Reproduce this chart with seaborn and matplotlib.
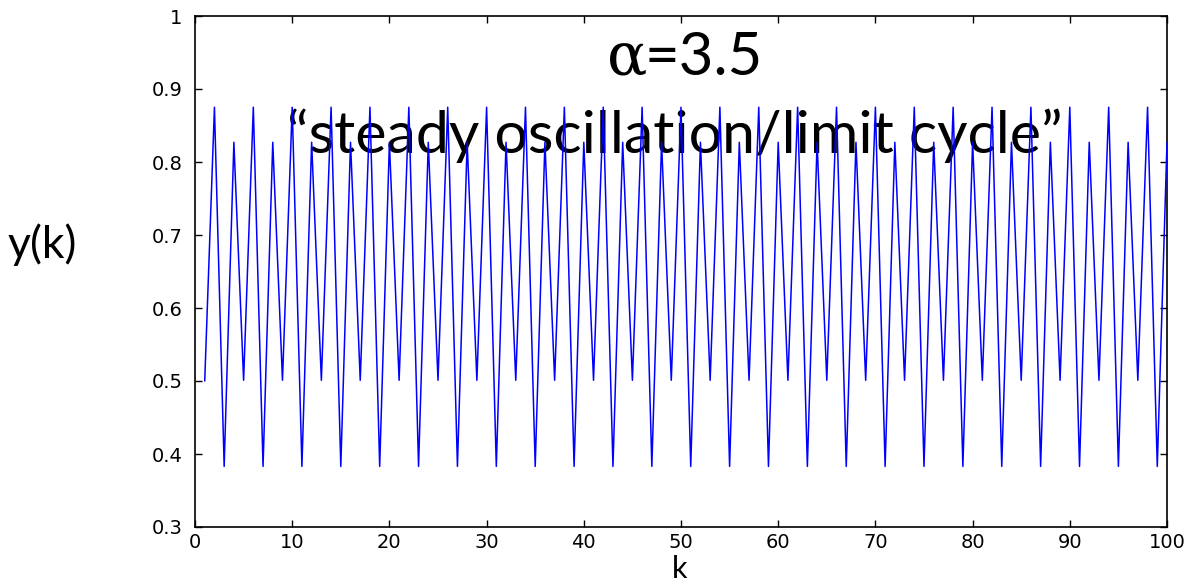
import matplotlib
matplotlib.use("Agg")
import matplotlib.pyplot as plt
import seaborn as sns
import pandas as pd

k_values = list(range(1, 101))
y_values = [
    0.500, 0.875, 0.383, 0.827, 0.501, 0.875, 0.383, 0.827, 0.501, 0.875,
    0.383, 0.827, 0.501, 0.875, 0.383, 0.827, 0.501, 0.875, 0.383, 0.827,
    0.501, 0.875, 0.383, 0.827, 0.501, 0.875, 0.383, 0.827, 0.501, 0.875,
    0.383, 0.827, 0.501, 0.875, 0.383, 0.827, 0.501, 0.875, 0.383, 0.827,
    0.501, 0.875, 0.383, 0.827, 0.501, 0.875, 0.383, 0.827, 0.501, 0.875,
    0.383, 0.827, 0.501, 0.875, 0.383, 0.827, 0.501, 0.875, 0.383, 0.827,
    0.501, 0.875, 0.383, 0.827, 0.501, 0.875, 0.383, 0.827, 0.501, 0.875,
    0.383, 0.827, 0.501, 0.875, 0.383, 0.827, 0.501, 0.875, 0.383, 0.827,
    0.501, 0.875, 0.383, 0.827, 0.501, 0.875, 0.383, 0.827, 0.501, 0.875,
    0.383, 0.827, 0.501, 0.875, 0.383, 0.827, 0.501, 0.875, 0.383, 0.827,
]
x_ticks = [0, 10, 20, 30, 40, 50, 60, 70, 80, 90, 100]
y_ticks = [0.3, 0.4, 0.5, 0.6, 0.7, 0.8, 0.9, 1.0]
y_tick_labels = ["0.3", "0.4", "0.5", "0.6", "0.7", "0.8", "0.9", "1"]
title_line1_greek = "α"
title_line1_rest = "=3.5"
title_line2 = "\u201csteady oscillation/limit cycle\u201d"
x_label = "k"
y_label = "y(k)"

sns.set_theme(style="white")
plt.rcParams["font.family"] = ["DejaVu Sans"]

df = pd.DataFrame({"k": k_values, "y": y_values})

fig = plt.figure(figsize=(11.99, 5.84), dpi=100)
ax = fig.add_axes([195 / 1199, 1 - 527 / 584, (1167 - 195) / 1199, (527 - 16) / 584])

sns.lineplot(data=df, x="k", y="y", ax=ax, color="#0000ff", linewidth=1.1, zorder=3)

ax.set_xlim(0, 100)
ax.set_ylim(0.3, 1.0)
ax.set_xticks(x_ticks)
ax.set_xticklabels([str(t) for t in x_ticks])
ax.set_yticks(y_ticks)
ax.set_yticklabels(y_tick_labels)
ax.tick_params(direction="in", length=5, width=1, colors="black", labelsize=14,
               top=True, right=True, bottom=True, left=True, pad=6)
ax.tick_params(axis="x", pad=4)
ax.tick_params(axis="y", pad=9)
ax.set_xlabel("")
ax.set_ylabel("")
for s in ax.spines.values():
    s.set_color("black")
    s.set_linewidth(1.2)

# titles inside plot, drawn under the line
ax.text(0.424, 0.918, title_line1_greek, transform=ax.transAxes, fontsize=43,
        family=["DejaVu Serif"], ha="left", va="center", color="black", zorder=1)
ax.text(0.462, 0.918, title_line1_rest, transform=ax.transAxes, fontsize=43,
        family=["Lato", "DejaVu Sans"], ha="left", va="center", color="black", zorder=1)
ax.text(0.494, 0.765, title_line2, transform=ax.transAxes, fontsize=42.5,
        family=["Lato", "DejaVu Sans"], ha="center", va="center", color="black", zorder=1)

fig.text(8 / 1199, 1 - 245 / 584, y_label, fontsize=32, family=["Lato", "DejaVu Sans"],
         ha="left", va="center", color="black")
fig.text(680 / 1199, 0.5 / 584, x_label, fontsize=22, family=["Lato", "DejaVu Sans"],
         ha="center", va="bottom", color="black")

fig.savefig("out.png", dpi=100)
